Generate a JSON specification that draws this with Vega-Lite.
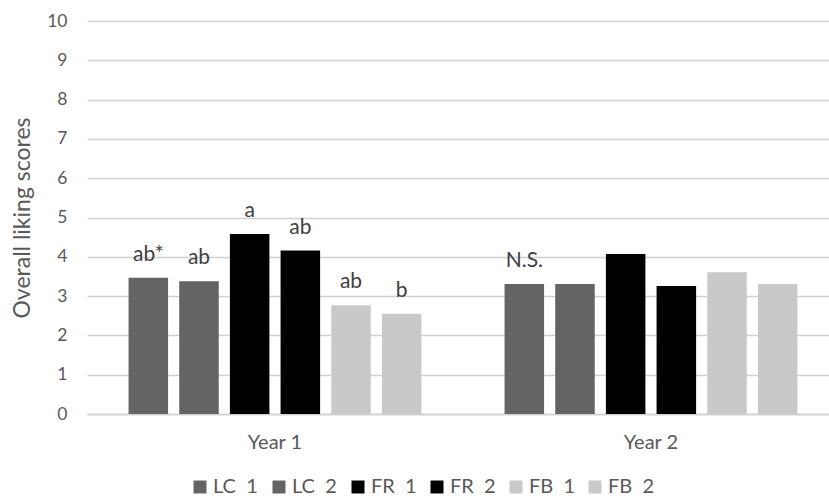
{
  "$schema": "https://vega.github.io/schema/vega-lite/v6.json",
  "width": 742,
  "height": 393,
  "autosize": {"type": "none"},
  "padding": {"left": 87, "top": 21, "right": 0, "bottom": 87},
  "background": "white",
  "config": {
    "view": {"stroke": null},
    "font": "Lato",
    "axis": {"labelFont": "Lato", "titleFont": "Lato", "labelColor": "#595959", "titleColor": "#595959"},
    "legend": {"labelFont": "Lato"}
  },
  "data": {
    "values": [
      {"year": "Year 1", "series": "LC\u00a0 1", "score": 3.47, "label": "ab*"},
      {"year": "Year 1", "series": "LC\u00a0 2", "score": 3.38, "label": "ab"},
      {"year": "Year 1", "series": "FR\u00a0 1", "score": 4.58, "label": "a"},
      {"year": "Year 1", "series": "FR\u00a0 2", "score": 4.16, "label": "ab"},
      {"year": "Year 1", "series": "FB\u00a0 1", "score": 2.77, "label": "ab"},
      {"year": "Year 1", "series": "FB\u00a0 2", "score": 2.55, "label": "b"},
      {"year": "Year 2", "series": "LC\u00a0 1", "score": 3.31, "label": "N.S."},
      {"year": "Year 2", "series": "LC\u00a0 2", "score": 3.31, "label": ""},
      {"year": "Year 2", "series": "FR\u00a0 1", "score": 4.07, "label": ""},
      {"year": "Year 2", "series": "FR\u00a0 2", "score": 3.26, "label": ""},
      {"year": "Year 2", "series": "FB\u00a0 1", "score": 3.61, "label": ""},
      {"year": "Year 2", "series": "FB\u00a0 2", "score": 3.31, "label": ""}
    ]
  },
  "encoding": {
    "x": {
      "field": "year", "type": "nominal",
      "scale": {"paddingInner": 0, "paddingOuter": 0, "range": [0, 752]},
      "axis": {"title": null, "labelAngle": 0, "labelFontSize": 20, "labelPadding": 18, "ticks": false, "domainColor": "#d0d0d0", "domainWidth": 1.5}
    },
    "xOffset": {
      "field": "series", "type": "nominal",
      "sort": ["LC\u00a0 1", "LC\u00a0 2", "FR\u00a0 1", "FR\u00a0 2", "FB\u00a0 1", "FB\u00a0 2"],
      "scale": {"paddingInner": 0.22, "paddingOuter": 0.82}
    },
    "y": {
      "field": "score", "type": "quantitative",
      "scale": {"domain": [0, 10], "nice": false},
      "axis": {"title": "Overall liking scores", "titleFontSize": 23, "titleFontWeight": "normal", "titlePadding": 12, "values": [0,1,2,3,4,5,6,7,8,9,10], "labelFontSize": 17.5, "labelPadding": 20, "ticks": false, "domain": false, "gridColor": "#d0d0d0", "gridWidth": 1.5}
    }
  },
  "layer": [
    {
      "mark": {"type": "bar"},
      "encoding": {
        "color": {
          "field": "series", "type": "nominal",
          "scale": {"domain": ["LC\u00a0 1", "LC\u00a0 2", "FR\u00a0 1", "FR\u00a0 2", "FB\u00a0 1", "FB\u00a0 2"], "range": ["#646464", "#646464", "#000000", "#000000", "#c9c9c9", "#c9c9c9"]},
          "legend": {
            "title": null, "orient": "none", "direction": "horizontal", "legendX": 103, "legendY": 456,
            "symbolType": "square", "symbolSize": 169, "symbolStrokeWidth": 0, "labelFontSize": 20, "labelColor": "#595959",
            "gridAlign": "all", "columnPadding": 9, "labelOffset": 3
          }
        }
      }
    },
    {
      "mark": {"type": "text", "baseline": "alphabetic", "dy": -17, "fontSize": 21, "color": "#404040", "font": "Lato"},
      "encoding": {"text": {"field": "label"}}
    }
  ]
}
